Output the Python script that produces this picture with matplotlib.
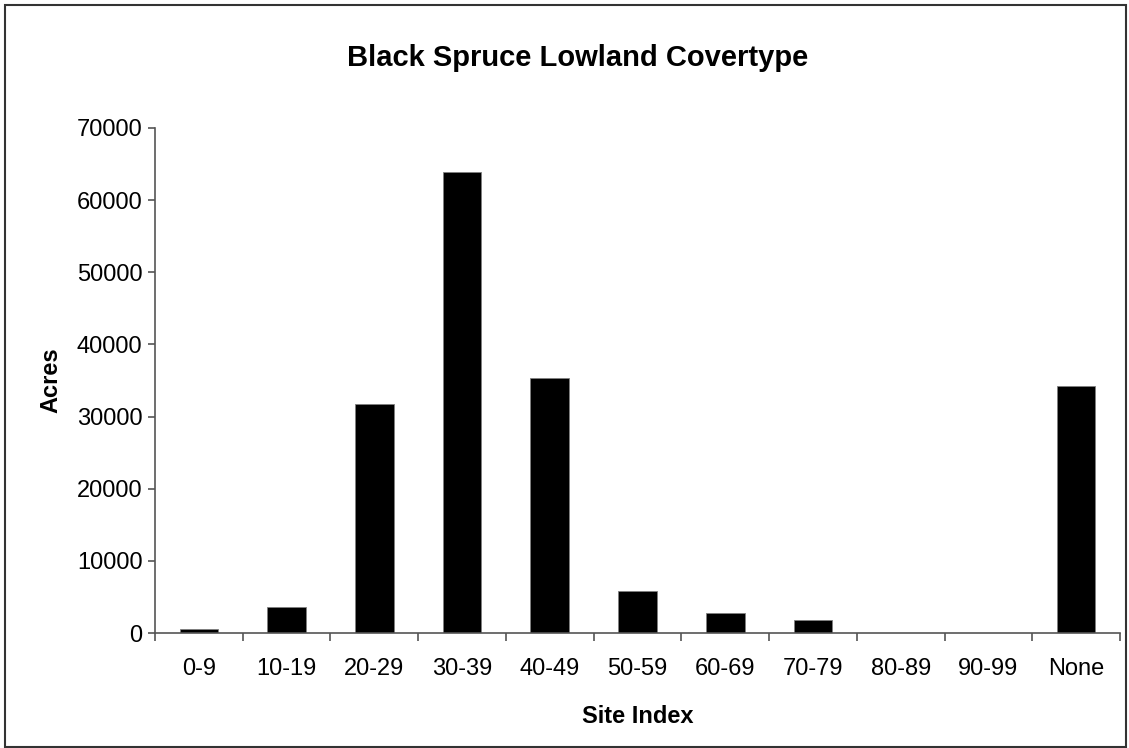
import matplotlib.pyplot as plt
from matplotlib.patches import Rectangle

categories = ["0-9", "10-19", "20-29", "30-39", "40-49", "50-59",
              "60-69", "70-79", "80-89", "90-99", "None"]
acres = [550, 3600, 31700, 63900, 35400, 5800, 2800, 1800, 0, 0, 34300]
yticks = [0, 10000, 20000, 30000, 40000, 50000, 60000, 70000]

plt.rcParams["font.family"] = ["Liberation Sans", "DejaVu Sans"]

fig = plt.figure(figsize=(11.29, 7.48), dpi=100)
ax = fig.add_axes([0.1373, 0.1537, 0.8547, 0.6752])

x = list(range(len(categories)))
ax.bar(x, acres, width=0.44, color="black", edgecolor="#808080", linewidth=0.6)

ax.set_xlim(-0.5, len(categories) - 0.5)
ax.set_ylim(0, 70000)
ax.set_yticks(yticks)
ax.set_yticklabels([str(v) for v in yticks])

# category ticks sit on the boundaries, labels in the middle
ax.set_xticks([i - 0.5 for i in range(len(categories) + 1)])
ax.set_xticklabels([])
ax.set_xticks(x, minor=True)
ax.set_xticklabels(categories, minor=True)
ax.tick_params(axis="x", which="minor", length=0, pad=18, labelsize=17)
ax.tick_params(axis="x", which="major", length=6, width=1.2, color="#555555")
ax.tick_params(axis="y", length=5, width=1.2, color="#555555", labelsize=17, pad=4)

for side in ["top", "right"]:
    ax.spines[side].set_visible(False)
for side in ["left", "bottom"]:
    ax.spines[side].set_color("#555555")
    ax.spines[side].set_linewidth(1.2)

ax.set_xlabel("Site Index", fontsize=17, fontweight="bold", labelpad=18)
ax.set_ylabel("Acres", fontsize=17, fontweight="bold", labelpad=10)
fig.text(0.512, 0.922, "Black Spruce Lowland Covertype", ha="center", va="center",
         fontsize=21, fontweight="bold")

# outer chart border
fig.patches.append(Rectangle((0.004, 0.002), 0.993, 0.991, transform=fig.transFigure,
                             fill=False, edgecolor="#333333", linewidth=1.5))

fig.savefig("out.png", dpi=100)
